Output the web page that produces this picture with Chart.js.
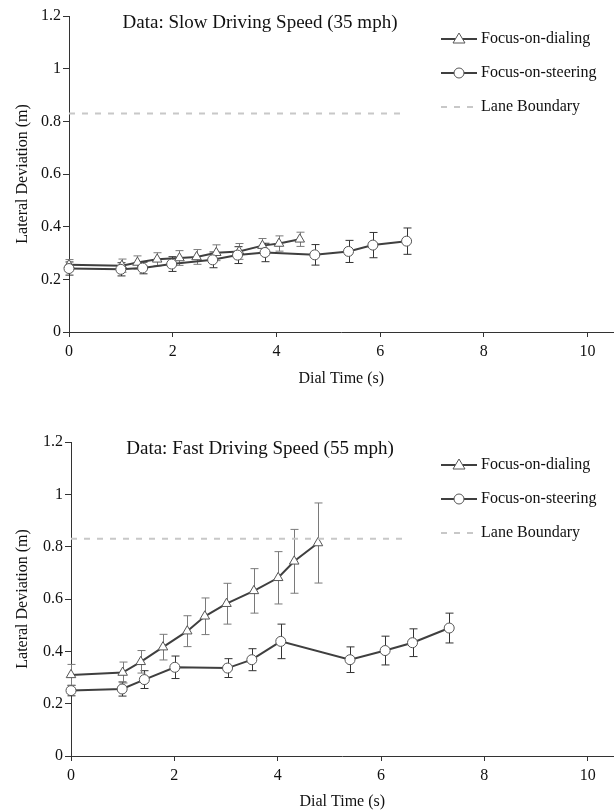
<!DOCTYPE html>
<html>
<head>
<meta charset="utf-8">
<script src="https://cdn.jsdelivr.net/npm/chart.js@4.4.0/dist/chart.umd.min.js"></script>
<style>
  body { margin: 0; background: #fff; overflow: hidden; }
  /* a little wider than the window so the x axis runs to x=613 */
  .wrap { position: relative; width: 620px; }
</style>
</head>
<body>
<div class="wrap" style="height:426px"><canvas id="slowChart"></canvas></div>
<div class="wrap" style="height:385px"><canvas id="fastChart"></canvas></div>
<script>
// Slow driving speed (35 mph)
const slowDialTime = [0, 1.02, 1.32, 1.70, 2.13, 2.46, 2.84, 3.28, 3.73, 4.05, 4.45];
const slowDialDev = [0.255, 0.252, 0.264, 0.276, 0.281, 0.285, 0.301, 0.306, 0.328, 0.336, 0.352];
const slowDialErr = [0.02, 0.025, 0.025, 0.025, 0.028, 0.028, 0.03, 0.03, 0.027, 0.029, 0.027];
const slowSteerTime = [0, 1.0, 1.42, 1.98, 2.77, 3.25, 3.78, 4.74, 5.39, 5.86, 6.51];
const slowSteerDev = [0.241, 0.238, 0.243, 0.258, 0.274, 0.292, 0.302, 0.293, 0.306, 0.330, 0.345];
const slowSteerErr = [0.025, 0.025, 0.022, 0.028, 0.03, 0.032, 0.035, 0.039, 0.042, 0.048, 0.05];

// Fast driving speed (55 mph)
const fastDialTime = [0, 1.0, 1.35, 1.78, 2.25, 2.59, 3.01, 3.54, 4.01, 4.32, 4.78];
const fastDialDev = [0.31, 0.319, 0.36, 0.416, 0.477, 0.534, 0.582, 0.631, 0.681, 0.744, 0.814];
const fastDialErr = [0.04, 0.04, 0.043, 0.049, 0.059, 0.07, 0.078, 0.085, 0.10, 0.122, 0.153];
const fastSteerTime = [0, 0.99, 1.42, 2.01, 3.03, 3.50, 4.06, 5.40, 6.08, 6.61, 7.32];
const fastSteerDev = [0.25, 0.256, 0.292, 0.339, 0.336, 0.368, 0.438, 0.368, 0.403, 0.433, 0.489];
const fastSteerErr = [0.02, 0.027, 0.034, 0.043, 0.036, 0.042, 0.066, 0.049, 0.055, 0.053, 0.057];

// Lane boundary
const laneTime = [0, 6.5];
const laneDev = [0.83, 0.83];

const legendLabels = ['Focus-on-dialing', 'Focus-on-steering', 'Lane Boundary'];
const xTicks = { min: 0, max: 10.5, step: 2 };
const yTicks = { min: 0, max: 1.2, step: 0.2 };

const FONT = "'Liberation Serif', 'Times New Roman', serif";
const LINE = '#3f3f3f';

function toPoints(xs, ys) {
    return xs.map((x, i) => ({ x: x, y: ys[i] }));
}

// error bars, drawn under the markers
const errorBarPlugin = {
    id: 'errorBars',
    beforeDatasetsDraw(chart) {
        const ctx = chart.ctx;
        const xs = chart.scales.x, ys = chart.scales.y;
        chart.data.datasets.forEach(ds => {
            if (!ds.errors) return;
            ctx.save();
            ctx.strokeStyle = ds.errorColor;
            ctx.lineWidth = 1;
            ds.data.forEach((p, i) => {
                const e = ds.errors[i];
                const px = Math.round(xs.getPixelForValue(p.x)) + 0.5;
                const top = ys.getPixelForValue(p.y + e);
                const bot = ys.getPixelForValue(p.y - e);
                ctx.beginPath();
                ctx.moveTo(px, top); ctx.lineTo(px, bot);
                ctx.moveTo(px - 4, top); ctx.lineTo(px + 4, top);
                ctx.moveTo(px - 4, bot); ctx.lineTo(px + 4, bot);
                ctx.stroke();
            });
            ctx.restore();
        });
    }
};

// title and legend sit inside the plot area
const insideTextPlugin = {
    id: 'insideText',
    afterDraw(chart, args, opts) {
        const ctx = chart.ctx;
        ctx.save();
        ctx.fillStyle = '#111';
        ctx.font = '19px ' + FONT;
        ctx.textAlign = 'center';
        ctx.textBaseline = 'middle';
        ctx.fillText(opts.title, 260, 23);

        ctx.font = '16px ' + FONT;
        ctx.textAlign = 'left';
        const rows = [39, 73, 107];
        rows.forEach((y, i) => {
            ctx.save();
            if (i < 2) {
                ctx.strokeStyle = LINE;
                ctx.lineWidth = 2;
                ctx.beginPath();
                ctx.moveTo(441, y); ctx.lineTo(477, y);
                ctx.stroke();
                ctx.fillStyle = '#fff';
                ctx.strokeStyle = '#555';
                ctx.lineWidth = 1;
                ctx.beginPath();
                if (i === 0) {
                    ctx.moveTo(459, y - 6);
                    ctx.lineTo(465, y + 4);
                    ctx.lineTo(453, y + 4);
                    ctx.closePath();
                } else {
                    ctx.arc(459, y, 5, 0, Math.PI * 2);
                }
                ctx.fill();
                ctx.stroke();
            } else {
                ctx.strokeStyle = '#c8c8c8';
                ctx.lineWidth = 2;
                ctx.setLineDash([6, 7]);
                ctx.beginPath();
                ctx.moveTo(441, y); ctx.lineTo(477, y);
                ctx.stroke();
            }
            ctx.restore();
            ctx.fillText(legendLabels[i], 481, y);
        });
        ctx.restore();
    }
};

function makeChart(id, cfg) {
    const ctx = document.getElementById(id).getContext('2d');
    return new Chart(ctx, {
        type: 'line',
        data: {
            datasets: [{
                label: legendLabels[2],
                data: toPoints(laneTime, laneDev),
                borderColor: '#c8c8c8',
                borderWidth: 2,
                borderDash: [6, 7],
                pointRadius: 0,
                clip: false
            }, {
                label: legendLabels[1],
                data: toPoints(cfg.steerTime, cfg.steerDev),
                errors: cfg.steerErr,
                errorColor: '#333',
                borderColor: LINE,
                borderWidth: 2,
                pointStyle: 'circle',
                pointRadius: 5,
                pointBackgroundColor: '#fff',
                pointBorderColor: '#555',
                pointBorderWidth: 1,
                clip: false
            }, {
                label: legendLabels[0],
                data: toPoints(cfg.dialTime, cfg.dialDev),
                errors: cfg.dialErr,
                errorColor: '#7a7a7a',
                borderColor: LINE,
                borderWidth: 2,
                pointStyle: 'triangle',
                pointRadius: 5.5,
                pointBackgroundColor: '#fff',
                pointBorderColor: '#555',
                pointBorderWidth: 1,
                clip: false
            }]
        },
        options: {
            responsive: true,
            maintainAspectRatio: false,
            animation: false,
            layout: { padding: { top: 16, right: 0, left: 0, bottom: cfg.padBottom } },
            plugins: {
                legend: { display: false },
                tooltip: { enabled: false },
                insideText: { title: cfg.title }
            },
            scales: {
                x: {
                    type: 'linear',
                    min: xTicks.min,
                    max: xTicks.max,
                    afterFit: s => { s.height = cfg.axisBottom; },
                    grid: { drawOnChartArea: false, tickLength: 5, color: '#333' },
                    border: { color: '#333', width: 1 },
                    ticks: {
                        stepSize: xTicks.step,
                        includeBounds: false,
                        color: '#111',
                        padding: 5,
                        maxRotation: 0,
                        font: { family: FONT, size: 16 }
                    },
                    title: {
                        display: true,
                        text: 'Dial Time (s)',
                        color: '#111',
                        padding: { top: 0, bottom: 0 },
                        font: { family: FONT, size: 16 }
                    }
                },
                y: {
                    min: yTicks.min,
                    max: yTicks.max,
                    afterFit: s => { s.width = cfg.axisLeft; },
                    grid: { drawOnChartArea: false, tickLength: 6, color: '#333' },
                    border: { color: '#333', width: 1 },
                    ticks: {
                        stepSize: yTicks.step,
                        color: '#111',
                        padding: 2,
                        font: { family: FONT, size: 16 },
                        callback: v => String(+v.toFixed(1))
                    },
                    title: {
                        display: true,
                        text: 'Lateral Deviation (m)',
                        color: '#111',
                        padding: { top: 13, bottom: 0 },
                        font: { family: FONT, size: 16 }
                    }
                }
            }
        },
        plugins: [errorBarPlugin, insideTextPlugin]
    });
}

makeChart('slowChart', {
    title: 'Data: Slow Driving Speed (35 mph)',
    dialTime: slowDialTime, dialDev: slowDialDev, dialErr: slowDialErr,
    steerTime: slowSteerTime, steerDev: slowSteerDev, steerErr: slowSteerErr,
    axisLeft: 69, axisBottom: 56, padBottom: 38
});

makeChart('fastChart', {
    title: 'Data: Fast Driving Speed (55 mph)',
    dialTime: fastDialTime, dialDev: fastDialDev, dialErr: fastDialErr,
    steerTime: fastSteerTime, steerDev: fastSteerDev, steerErr: fastSteerErr,
    axisLeft: 71, axisBottom: 55, padBottom: 0
});
</script>
</body>
</html>
